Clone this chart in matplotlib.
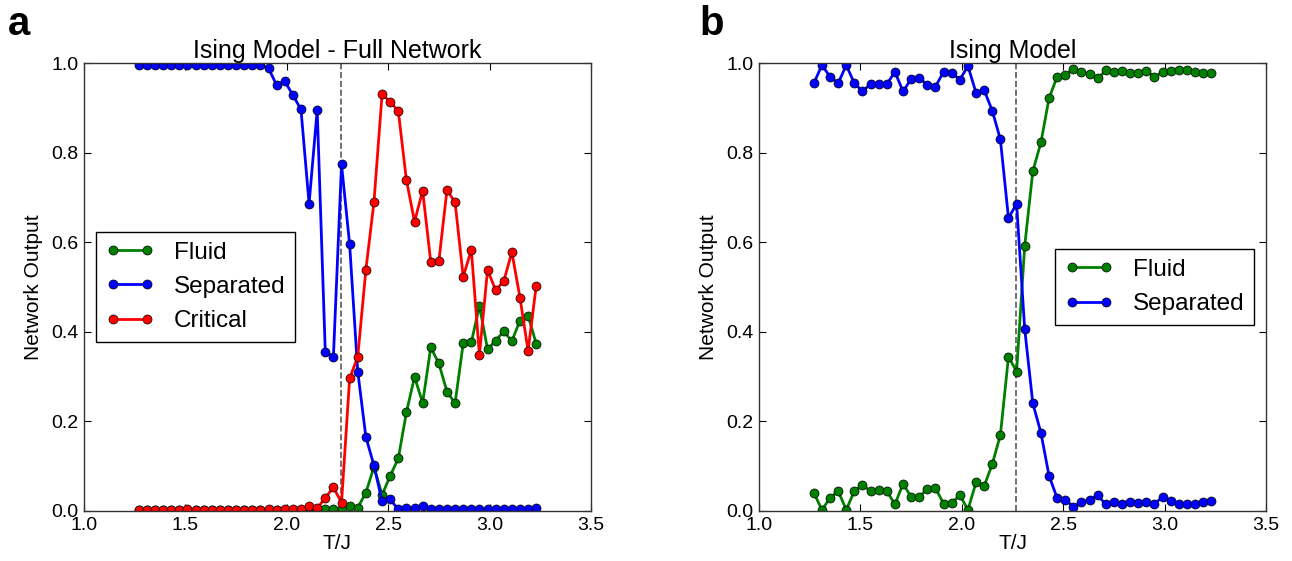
import matplotlib
matplotlib.use('Agg')
import matplotlib.pyplot as plt

plt.rcParams['font.family'] = ['Liberation Sans', 'DejaVu Sans']

# temperature grid (T/J) shared by both panels
temps = [1.27, 1.31, 1.35, 1.39, 1.43, 1.47, 1.51, 1.55, 1.59, 1.63,
         1.67, 1.71, 1.75, 1.79, 1.83, 1.87, 1.91, 1.95, 1.99, 2.03,
         2.07, 2.11, 2.15, 2.19, 2.23, 2.27, 2.31, 2.35, 2.39, 2.43,
         2.47, 2.51, 2.55, 2.59, 2.63, 2.67, 2.71, 2.75, 2.79, 2.83,
         2.87, 2.91, 2.95, 2.99, 3.03, 3.07, 3.11, 3.15, 3.19, 3.23]
t_critical = 2.269

# panel a: three-class network
fluid_a = [0.001, 0.001, 0.001, 0.001, 0.001, 0.001, 0.002, 0.001, 0.001, 0.001,
           0.001, 0.001, 0.002, 0.001, 0.001, 0.001, 0.001, 0.001, 0.001, 0.001,
           0.001, 0.002, 0.002, 0.003, 0.003, 0.003, 0.010, 0.007, 0.040, 0.098,
           0.035, 0.078, 0.117, 0.220, 0.299, 0.241, 0.365, 0.329, 0.266, 0.240,
           0.374, 0.376, 0.458, 0.361, 0.380, 0.401, 0.379, 0.425, 0.436, 0.373]
separated_a = [0.997, 0.997, 0.997, 0.997, 0.997, 0.997, 0.997, 0.997, 0.997, 0.997,
               0.997, 0.997, 0.997, 0.997, 0.997, 0.996, 0.989, 0.951, 0.960, 0.929,
               0.897, 0.686, 0.896, 0.354, 0.344, 0.774, 0.595, 0.311, 0.165, 0.101,
               0.021, 0.025, 0.003, 0.007, 0.005, 0.011, 0.004, 0.003, 0.004, 0.003,
               0.003, 0.004, 0.003, 0.003, 0.004, 0.003, 0.003, 0.004, 0.004, 0.006]
critical_a = [0.002, 0.002, 0.002, 0.002, 0.002, 0.002, 0.003, 0.002, 0.002, 0.002,
              0.002, 0.002, 0.002, 0.002, 0.002, 0.002, 0.003, 0.002, 0.003, 0.004,
              0.003, 0.010, 0.005, 0.029, 0.052, 0.018, 0.296, 0.344, 0.538, 0.690,
              0.931, 0.914, 0.893, 0.739, 0.646, 0.715, 0.556, 0.558, 0.717, 0.689,
              0.523, 0.583, 0.348, 0.538, 0.493, 0.513, 0.578, 0.476, 0.357, 0.503]

# panel b: two-class network
fluid_b = [0.040, 0.002, 0.028, 0.044, 0.002, 0.044, 0.057, 0.044, 0.046, 0.044,
           0.014, 0.060, 0.031, 0.031, 0.049, 0.050, 0.016, 0.017, 0.035, 0.002,
           0.063, 0.055, 0.104, 0.169, 0.344, 0.311, 0.592, 0.759, 0.823, 0.922,
           0.970, 0.974, 0.987, 0.981, 0.975, 0.966, 0.984, 0.981, 0.982, 0.978,
           0.978, 0.982, 0.970, 0.980, 0.982, 0.984, 0.984, 0.981, 0.978, 0.978]
separated_b = [0.955, 0.996, 0.970, 0.955, 0.996, 0.955, 0.938, 0.953, 0.953, 0.953,
               0.981, 0.937, 0.965, 0.968, 0.951, 0.948, 0.981, 0.979, 0.963, 0.994,
               0.934, 0.940, 0.894, 0.830, 0.654, 0.686, 0.406, 0.240, 0.174, 0.078,
               0.028, 0.024, 0.009, 0.019, 0.024, 0.034, 0.014, 0.019, 0.014, 0.020,
               0.018, 0.020, 0.016, 0.030, 0.022, 0.015, 0.014, 0.016, 0.020, 0.021]

x_ticks = [1.0, 1.5, 2.0, 2.5, 3.0, 3.5]
y_ticks = [0.0, 0.2, 0.4, 0.6, 0.8, 1.0]

line_kw = dict(marker='o', lw=2, markersize=6.5, markeredgecolor='k', markeredgewidth=0.5)


def style_axes(ax, title):
    ax.axvline(t_critical, color='0.35', ls='--', lw=1.2, zorder=1)
    ax.set_xlim(1.0, 3.5)
    ax.set_ylim(0.0, 1.0)
    ax.set_xticks(x_ticks)
    ax.set_yticks(y_ticks)
    ax.set_xticklabels(['%.1f' % t for t in x_ticks])
    ax.set_yticklabels(['%.1f' % t for t in y_ticks])
    ax.tick_params(direction='in', top=True, right=True, length=5, width=0.8,
                   labelsize=14)
    ax.tick_params(axis='x', pad=4.5)
    ax.tick_params(axis='y', pad=4)
    for sp in ax.spines.values():
        sp.set_linewidth(1.0)
        sp.set_color('0.2')
    ax.set_xlabel('T/J', fontsize=15, labelpad=0)
    ax.set_ylabel('Network Output', fontsize=15, labelpad=6)
    ax.set_title(title, fontsize=18, pad=4)


fig = plt.figure(figsize=(12.92, 5.61), dpi=100)
ax_a = fig.add_axes([0.0650, 0.0897, 0.3924, 0.7975])
ax_b = fig.add_axes([0.5875, 0.0897, 0.3924, 0.7975])

ax_a.plot(temps, fluid_a, color='g', label='Fluid', **line_kw)
ax_a.plot(temps, separated_a, color='b', label='Separated', **line_kw)
ax_a.plot(temps, critical_a, color='r', label='Critical', **line_kw)
style_axes(ax_a, 'Ising Model - Full Network')

ax_b.plot(temps, fluid_b, color='g', label='Fluid', **line_kw)
ax_b.plot(temps, separated_b, color='b', label='Separated', **line_kw)
style_axes(ax_b, 'Ising Model')

for ax, loc in [(ax_a, 'center left'), (ax_b, 'center right')]:
    leg = ax.legend(loc=loc, fontsize=17.5, numpoints=2, fancybox=False,
                    framealpha=1, edgecolor='k', borderpad=0.4,
                    labelspacing=0.5, handlelength=2.0, handletextpad=0.8,
                    borderaxespad=0.5)
    leg.get_frame().set_linewidth(1.0)

fig.text(0.006, 0.938, 'a', fontsize=29, fontweight='bold', va='baseline')
fig.text(0.541, 0.938, 'b', fontsize=29, fontweight='bold', va='baseline')

fig.savefig('out.png', dpi=100, facecolor='white')
